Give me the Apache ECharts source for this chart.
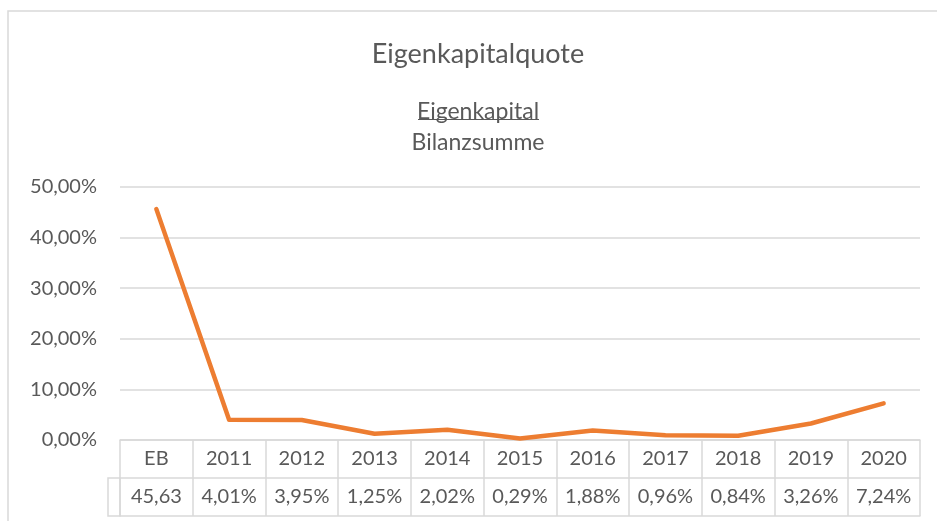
<!DOCTYPE html>
<html>
<head>
<meta charset="utf-8">
<script src="https://cdn.jsdelivr.net/npm/echarts@6/dist/echarts.min.js"></script>
<style>
  html, body { margin: 0; padding: 0; background: #fff; }
  #chart { width: 937px; height: 521px; }
</style>
</head>
<body>
<div id="chart"></div>
<script>
const categories = ['EB', '2011', '2012', '2013', '2014', '2015', '2016', '2017', '2018', '2019', '2020'];
const quote = [45.63, 4.01, 3.95, 1.25, 2.02, 0.29, 1.88, 0.96, 0.84, 3.26, 7.24];
const tableLabels = ['45,63', '4,01%', '3,95%', '1,25%', '2,02%', '0,29%', '1,88%', '0,96%', '0,84%', '3,26%', '7,24%'];

const chart = echarts.init(document.getElementById('chart'));
const font = 'Lato, "Open Sans", sans-serif';
const textColor = '#595959';
const lineGray = '#d9d9d9';

chart.setOption({
  backgroundColor: '#fff',
  animation: false,
  textStyle: { fontFamily: font },
  title: [
    {
      text: 'Eigenkapitalquote',
      left: 473,
      textAlign: 'center',
      top: 36,
      textStyle: { fontFamily: font, fontSize: 27, fontWeight: 'normal', color: textColor }
    },
    {
      text: 'Eigenkapital\nBilanzsumme',
      left: 473,
      textAlign: 'center',
      top: 91,
      textStyle: { fontFamily: font, fontSize: 23, fontWeight: 'normal', color: textColor, lineHeight: 31 }
    }
  ],
  grid: { left: 120, right: 17, top: 187, bottom: 81 },
  xAxis: [
    {
      type: 'category',
      data: categories,
      boundaryGap: true,
      axisLine: { show: true, lineStyle: { color: lineGray, width: 1.5 } },
      axisTick: { show: true, length: 76, interval: 0, lineStyle: { color: lineGray, width: 1.5 } },
      axisLabel: { interval: 0, margin: 9, fontSize: 20, color: textColor }
    },
    {
      type: 'category',
      data: tableLabels,
      position: 'bottom',
      offset: 38,
      boundaryGap: true,
      axisLine: { show: true, lineStyle: { color: lineGray, width: 1.5 } },
      axisTick: { show: false },
      axisLabel: { interval: 0, margin: 9, fontSize: 20, color: textColor }
    },
    {
      type: 'category',
      data: categories,
      position: 'bottom',
      offset: 76,
      axisLine: { show: true, lineStyle: { color: lineGray, width: 1.5 } },
      axisTick: { show: false },
      axisLabel: { show: false }
    }
  ],
  yAxis: {
    type: 'value',
    min: 0,
    max: 50,
    interval: 10,
    axisLine: { show: false },
    axisTick: { show: false },
    splitLine: { lineStyle: { color: lineGray, width: 1.5 } },
    axisLabel: {
      margin: 23,
      fontSize: 20,
      color: textColor,
      formatter: v => v.toFixed(2).replace('.', ',') + '%'
    }
  },
  graphic: [
    {
      type: 'rect',
      shape: { x: 8, y: 11, width: 940, height: 520 },
      style: { fill: 'none', stroke: lineGray, lineWidth: 1.5 },
      silent: true
    },
    {
      type: 'rect',
      shape: { x: 108, y: 478, width: 12, height: 38 },
      style: { fill: 'none', stroke: lineGray, lineWidth: 1.5 },
      silent: true
    },
    {
      type: 'line',
      shape: { x1: 418, y1: 119.5, x2: 539, y2: 119.5 },
      style: { stroke: textColor, lineWidth: 1.2 },
      silent: true
    }
  ],
  series: [
    {
      name: 'Eigenkapitalquote',
      type: 'line',
      data: quote,
      showSymbol: false,
      lineStyle: { color: '#ED7D31', width: 4.5, cap: 'round', join: 'round' },
      itemStyle: { color: '#ED7D31' }
    }
  ]
});
</script>
</body>
</html>
